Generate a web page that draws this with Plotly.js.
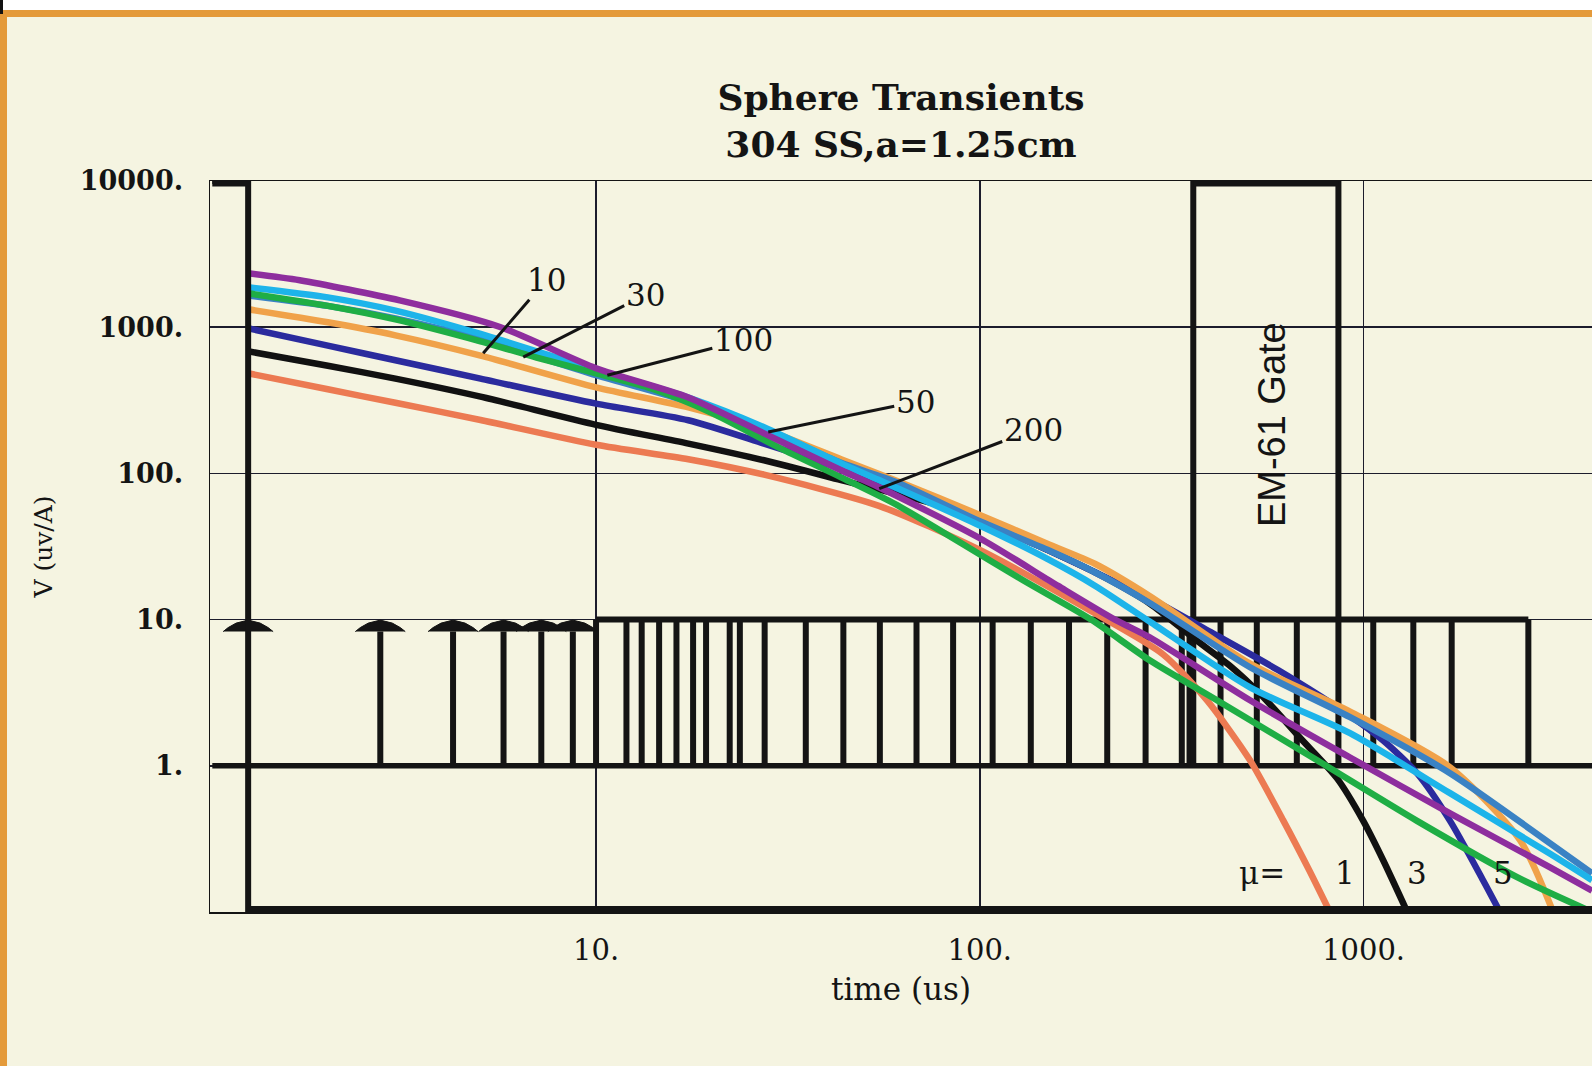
<!DOCTYPE html>
<html><head><meta charset="utf-8">
<script src="https://cdn.plot.ly/plotly-3.0.1.min.js"></script>
<style>
html,body{margin:0;padding:0;background:#fff;width:1592px;height:1066px;overflow:hidden;}
#frame{position:absolute;left:0;top:10px;width:1592px;height:1056px;box-sizing:border-box;border-top:7px solid #e49a3a;border-left:7px solid #e49a3a;background:#f5f4e1;}
#corner{position:absolute;left:0;top:0;width:3px;height:14px;background:#111;}
#chart{position:absolute;left:0;top:0;width:1592px;height:1066px;}
</style></head><body>
<div id="frame"></div><div id="corner"></div><div id="chart"></div>
<script>
// ---------------- data ----------------
// decay curves, time in microseconds, V in uv/A
const mu1T  = [1.24,2,3,5,10,17.4,27.4,54.6,100,200,300,391,506,617,724,817];
const mu1V  = [484,376,304,232,157,125,98,60,30,11,5.8,2.8,1.09,0.425,0.19,0.1];
const mu3T  = [1.24,2,3,5,10,17.4,27.4,43.5,86.7,150,200,277,360,450,538,684,853,998,1125,1300];
const mu3V  = [684,545,445,335,215,160,123,90,56,30,21,12.9,7.5,4.8,3.1,1.55,0.82,0.42,0.226,0.1];
const mu5T  = [1.24,2,3,5,10,17.4,27.4,43.5,60,100,150,200,277,400,600,922,1125,1378,1680,2048,2268];
const mu5V  = [983,748,594,445,300,231,160,108,80,47,30,21,14,8.2,4.5,2.2,1.49,0.89,0.42,0.165,0.1];
const mu10T = [1.24,2,3,5,10,17.4,27.4,43.5,60,100,150,200,277,506,922,1680,2557,3119];
const mu10V = [1326,1080,880,640,388,283,200,125,90,52,33,24,14.5,5.0,2.35,0.977,0.31,0.1];
const mu30T = [1.24,2,3,5,10,17.4,27.4,43.5,60,100,150,200,277,506,922,1680,3063,3940];
const mu30V = [1650,1400,1150,830,470,310,200,118,88,47,30,21,13,4.72,2.15,0.89,0.295,0.184];
const mu50T = [1.24,2,3,5,10,17.4,27.4,43.5,54.6,100,150,200,277,506,922,1680,3063,3940];
const mu50V = [1875,1600,1300,900,510,330,207,117,90,44,26,17,9.7,3.44,1.67,0.65,0.25,0.165];
const mu100T = [1.24,2,3,5,7,10,14,20,30,43.5,60,90,130,195,277,415,757,1378,2512,3940];
const mu100V = [1706,1400,1130,800,620,484,380,260,150,94,62,33,18.5,10,5.27,2.81,1.09,0.42,0.173,0.1];
const mu200T = [1.24,1.69,3.08,5.62,10,17.4,27.4,43.5,54.6,100,160,225,277,506,922,1680,3063,3940];
const mu200V = [2337,2094,1524,1003,524,331,188,105,80.4,36,17,10,7.57,2.81,1.14,0.473,0.202,0.14];

// transmitter waveform (thick black step)
const txT = [1, 1.24, 1.24, 3940];
const txV = [10000, 10000, 0.1, 0.1];
// early sample spikes (arrows) and later gate edges, drawn between 1 and 10
const spikeT = [1.24, 2.74, 4.24, 5.74, 7.2, 8.7];
const gateEdges = [10,12.0,13.15,14.6,16.2,17.9,19.35,22.3,23.7,27.5,35.2,44.1,54.9,68.4,85.2,108,135.8,170.8,214.8,270.4,336,352,424,527,670,1060,1348,1697,2688];
const gateLow = 1, gateHigh = 10;
// EM-61 gate window
const emT = [360, 360, 860, 860];
const emV = [1, 10000, 10000, 1];

// axis ticks
const xTickVals = [10, 100, 1000];
const xTickText = ['10.', '100.', '1000.'];
const yTickVals = [1, 10, 100, 1000, 10000];
const yTickText = ['1.', '10.', '100.', '1000.', '10000.'];

// curve labels
const leaderLabels = ['10', '30', '100', '50', '200'];
const leaderT = [5.08, 6.46, 10.7, 28.1, 54.7];
const leaderV = [663, 625, 469, 192, 78.7];
const muLabels = ['\u03bc=', '1', '3', '5'];
const muLabelT = [543, 894, 1377, 2307];
const muLabelV = [0.184, 0.184, 0.184, 0.184];
const gateLabel = 'EM-61 Gate';
const gateLabelT = 577, gateLabelV = 217;

// ---------------- layout geometry ----------------
const W = 1592, H = 1066;
const M = {l: 210, r: 0, t: 181, b: 154};
const xRange = [-0.006, 3.5953];
const yRange = [-1, 4];
const pxDecX = (W - M.l - M.r) / (xRange[1] - xRange[0]);
const pxDecY = (H - M.t - M.b) / (yRange[1] - yRange[0]);
const leaderOffsets = [[63,-73],[122,-62],[136,-35],[147,-30],[154,-59]];
const ink = '#141414';

const traces = [];
function curve(t, v, color, name) {
  traces.push({x: t, y: v, mode: 'lines', name: name, hoverinfo: 'skip',
    line: {color: color, width: 6.5, shape: 'spline', smoothing: 0.7}});
}

// baseline at y=1 and gate comb
traces.push({x: [1, Math.pow(10, xRange[1])], y: [gateLow, gateLow], mode: 'lines',
  line: {color: ink, width: 5.5}, hoverinfo: 'skip'});
(function () {
  const gx = [], gy = [];
  gateEdges.forEach(e => { gx.push(e, e, null); gy.push(gateLow, gateHigh, null); });
  gx.push(gateEdges[0], gateEdges[gateEdges.length - 1]);
  gy.push(gateHigh, gateHigh);
  traces.push({x: gx, y: gy, mode: 'lines', line: {color: ink, width: 6}, hoverinfo: 'skip'});
})();
// spikes with arrow heads
(function () {
  const sx = [], sy = [], hx = [], hy = [];
  const headPx = [[-25,0],[-20,4],[-12,8.5],[0,11.5],[12,8.5],[20,4],[25,0]];
  const baseV = gateHigh * Math.pow(10, -12 / pxDecY);
  spikeT.forEach((t, i) => {
    if (i > 0) { sx.push(t, t, null); sy.push(gateLow, baseV, null); }
    headPx.forEach(p => {
      hx.push(t * Math.pow(10, p[0] / pxDecX));
      hy.push(baseV * Math.pow(10, p[1] / pxDecY));
    });
    hx.push(null); hy.push(null);
  });
  traces.push({x: sx, y: sy, mode: 'lines', line: {color: ink, width: 6}, hoverinfo: 'skip'});
  traces.push({x: hx, y: hy, mode: 'lines', fill: 'toself', fillcolor: ink,
    line: {color: ink, width: 1}, hoverinfo: 'skip'});
})();
// EM-61 gate window
traces.push({x: emT, y: emV, mode: 'lines', line: {color: ink, width: 6}, hoverinfo: 'skip'});
traces.push({x: emT.slice(1, 3), y: emV.slice(1, 3), mode: 'lines', line: {color: ink, width: 11}, hoverinfo: 'skip'});

// decay curves
curve(mu1T, mu1V, '#ec7a52', '\u03bc=1');
curve(mu3T, mu3V, '#111111', '\u03bc=3');
curve(mu5T, mu5V, '#2b2b9e', '\u03bc=5');
curve(mu10T, mu10V, '#f0a24a', '\u03bc=10');
curve(mu30T, mu30V, '#3a82c4', '\u03bc=30');
curve(mu50T, mu50V, '#1db4ea', '\u03bc=50');
curve(mu100T, mu100V, '#1fae45', '\u03bc=100');
curve(mu200T, mu200V, '#8e2e9e', '\u03bc=200');

// transmitter waveform
traces.push({x: txT, y: txV, mode: 'lines', line: {color: ink, width: 6}, hoverinfo: 'skip'});
traces.push({x: txT.slice(0, 2), y: txV.slice(0, 2), mode: 'lines', line: {color: ink, width: 11}, hoverinfo: 'skip'});
traces.push({x: txT.slice(2), y: txV.slice(2), mode: 'lines', line: {color: ink, width: 12}, hoverinfo: 'skip'});

const annotations = [];
leaderLabels.forEach((s, i) => {
  annotations.push({x: Math.log10(leaderT[i]), y: Math.log10(leaderV[i]), xref: 'x', yref: 'y',
    text: s, showarrow: true, arrowhead: 0, arrowwidth: 3, arrowcolor: ink, standoff: 0,
    ax: leaderOffsets[i][0], ay: leaderOffsets[i][1],
    font: {family: 'DejaVu Serif', size: 31, color: ink}});
});
muLabels.forEach((s, i) => {
  annotations.push({x: Math.log10(muLabelT[i]), y: Math.log10(muLabelV[i]), xref: 'x', yref: 'y',
    text: s, showarrow: false, font: {family: 'DejaVu Serif', size: 31, color: ink}});
});
annotations.push({x: Math.log10(gateLabelT), y: Math.log10(gateLabelV), xref: 'x', yref: 'y',
  text: gateLabel, showarrow: false, textangle: -90,
  font: {family: 'Liberation Sans', size: 38, color: ink}});

const layout = {
  width: W, height: H, margin: M, showlegend: false,
  paper_bgcolor: 'rgba(0,0,0,0)', plot_bgcolor: 'rgba(0,0,0,0)',
  title: {text: 'Sphere Transients<br>304 SS,a=1.25cm', x: 0.5, xref: 'paper', xanchor: 'center',
    y: 1 - 110 / H, yref: 'container', yanchor: 'top',
    font: {family: 'DejaVu Serif', size: 36, weight: 'bold', color: ink}},
  xaxis: {type: 'log', range: xRange, tickvals: xTickVals, ticktext: xTickText,
    showgrid: true, gridcolor: '#1c1c2c', gridwidth: 1.5, zeroline: false,
    showline: true, mirror: true, linecolor: ink, linewidth: 1.5, ticks: '',
    ticklabelstandoff: 12,
    tickfont: {family: 'DejaVu Serif', size: 29, color: ink},
    title: {text: 'time (us)', standoff: 12, font: {family: 'DejaVu Serif', size: 31, color: ink}}},
  yaxis: {type: 'log', range: yRange, tickvals: yTickVals, ticktext: yTickText,
    showgrid: true, gridcolor: '#1c1c2c', gridwidth: 1.5, zeroline: false,
    showline: true, mirror: true, linecolor: ink, linewidth: 1.5, ticks: '',
    ticklabelstandoff: 20,
    tickfont: {family: 'DejaVu Serif', size: 27, weight: 'bold', color: ink},
    title: {text: 'V (uv/A)', standoff: 20, font: {family: 'DejaVu Serif', size: 25, color: ink}}},
  annotations: annotations
};
Plotly.newPlot('chart', traces, layout, {staticPlot: true, displayModeBar: false});
</script></body></html>
